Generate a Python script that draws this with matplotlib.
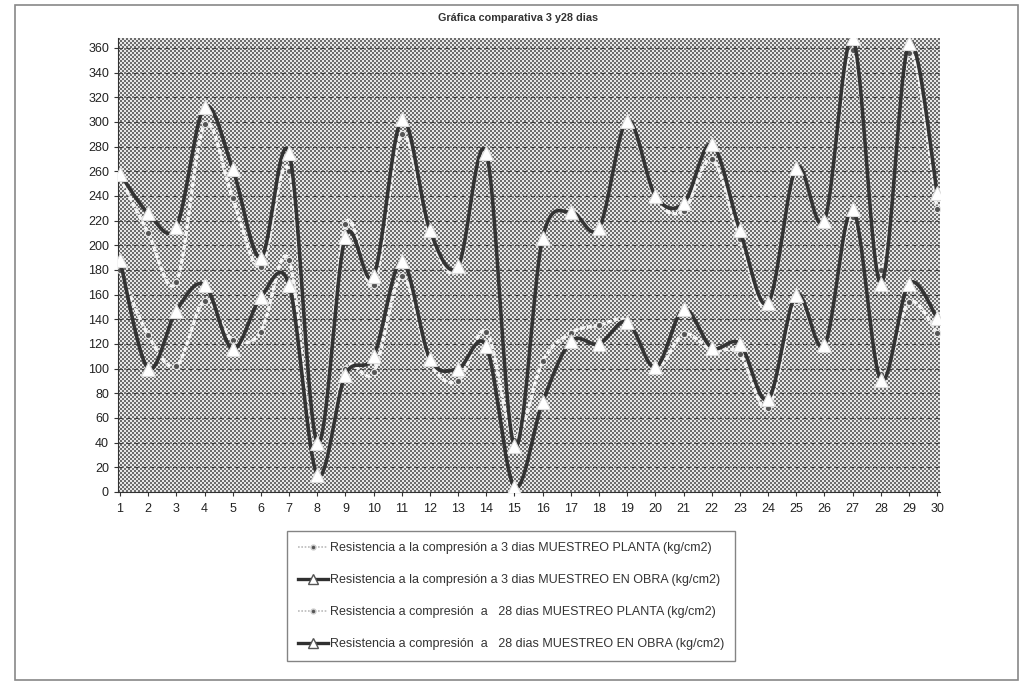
import numpy as np
import matplotlib
matplotlib.use('agg')
from matplotlib import pyplot
from matplotlib.patches import Rectangle
from matplotlib.lines import Line2D

dias = list(range(1, 31))

# resistencias a compresion (kg/cm2)
planta_3 = [180, 127, 102, 155, 123, 130, 188, 15, 100, 97,
            175, 105, 90, 130, 44, 106, 129, 135, 138, 100,
            128, 115, 112, 68, 155, 120, 223, 96, 154, 129]
obra_3 = [188, 100, 147, 168, 116, 158, 168, 14, 95, 110,
          187, 108, 100, 118, 4, 73, 122, 120, 138, 101,
          148, 117, 120, 75, 160, 119, 229, 91, 169, 141]
planta_28 = [255, 210, 170, 298, 238, 182, 260, 40, 217, 168,
             290, 208, 180, 272, 42, 205, 228, 215, 300, 238,
             228, 270, 205, 150, 260, 220, 358, 180, 356, 229]
obra_28 = [258, 226, 215, 312, 262, 190, 275, 40, 207, 175,
           302, 212, 183, 275, 37, 206, 227, 214, 301, 240,
           234, 282, 212, 153, 263, 220, 368, 169, 364, 242]

etiquetas = [
    'Resistencia a la compresión a 3 dias MUESTREO PLANTA (kg/cm2)',
    'Resistencia a la compresión a 3 dias MUESTREO EN OBRA (kg/cm2)',
    'Resistencia a compresión  a   28 dias MUESTREO PLANTA (kg/cm2)',
    'Resistencia a compresión  a   28 dias MUESTREO EN OBRA (kg/cm2)',
]


def suavizar(x, y, pasos=20):
    # curva tipo Catmull-Rom, como la linea suavizada de Excel
    x = np.asarray(x, float)
    y = np.asarray(y, float)
    px = np.concatenate([[x[0]], x, [x[-1]]])
    py = np.concatenate([[y[0]], y, [y[-1]]])
    xs, ys = [], []
    t = np.linspace(0, 1, pasos, endpoint=False)
    for i in range(1, len(px) - 2):
        for p, out in ((px, xs), (py, ys)):
            p0, p1, p2, p3 = p[i - 1], p[i], p[i + 1], p[i + 2]
            c1 = p1 + (p2 - p0) / 6
            c2 = p2 - (p3 - p1) / 6
            out.append((1 - t) ** 3 * p1 + 3 * (1 - t) ** 2 * t * c1
                       + 3 * (1 - t) * t ** 2 * c2 + t ** 3 * p2)
    xs.append([x[-1]])
    ys.append([y[-1]])
    return np.concatenate(xs), np.concatenate(ys)


pyplot.rcParams['font.family'] = 'Liberation Sans'
fig = pyplot.figure(figsize=(10.24, 6.83), dpi=100)

# marco exterior
fig.patches.append(Rectangle((15 / 1024, 3 / 683), 1003 / 1024, 675 / 683,
                             transform=fig.transFigure, fill=False,
                             edgecolor='#888888', linewidth=1.2))

ax = fig.add_axes([118 / 1024, 191 / 683, 822 / 1024, 454 / 683])
ax.set_xlim(0.93, 30.1)
ax.set_ylim(0, 368)

# fondo punteado del area de trazado
n_y, n_x = 454 // 2, 822 // 2
trama = (np.add.outer(np.arange(n_y), np.arange(n_x)) % 2).astype(float)
ax.imshow(trama, cmap='gray', vmin=-0.9, vmax=1.2, aspect='auto',
          extent=(0.93, 30.1, 0, 368), interpolation='nearest', zorder=0)

for v in range(20, 361, 20):
    ax.axhline(v, color='#444444', linewidth=0.8, dashes=(4, 3), zorder=1)

estilos = [
    (planta_3, dict(color='#f4f4f4', linewidth=2.4, linestyle=(0, (1.5, 0.6))), 'o'),
    (obra_3, dict(color='#333333', linewidth=2.6, linestyle='-'), '^'),
    (planta_28, dict(color='#f4f4f4', linewidth=2.4, linestyle=(0, (1.5, 0.6))), 'o'),
    (obra_28, dict(color='#333333', linewidth=2.6, linestyle='-'), '^'),
]
for k, (serie, st, mk) in enumerate(estilos):
    sx, sy = suavizar(dias, serie)
    ax.plot(sx, sy, zorder=3 + k, **st)
    if mk == 'o':
        ax.plot(dias, serie, 'o', markersize=4.5, markerfacecolor='#555555',
                markeredgecolor='#e8e8e8', markeredgewidth=0.8, zorder=3 + k)
    else:
        ax.plot(dias, serie, '^', markersize=9.5, markerfacecolor='white',
                markeredgecolor='#dddddd', markeredgewidth=0.8, zorder=3 + k)

ax.set_xticks(dias)
ax.set_yticks(range(0, 361, 20))
ax.tick_params(axis='both', labelsize=9, length=3, color='#333333', labelcolor='#222222')
ax.tick_params(axis='x', pad=5)
for lado in ('top', 'right'):
    ax.spines[lado].set_visible(False)
for lado in ('left', 'bottom'):
    ax.spines[lado].set_color('#333333')

fig.text(518 / 1024, 1 - 18 / 683, 'Gráfica comparativa 3 y28 dias',
         ha='center', va='center', fontsize=7.8, fontweight='bold', color='#333333')

# leyenda
muestras = [
    Line2D([], [], color='#bbbbbb', linewidth=1.2, linestyle=(0, (1, 1)),
           marker='o', markersize=3.5, markerfacecolor='#555555', markeredgecolor='#cccccc'),
    Line2D([], [], color='#303030', linewidth=2.4, marker='^', markersize=7,
           markerfacecolor='white', markeredgecolor='#555555'),
    Line2D([], [], color='#bbbbbb', linewidth=1.2, linestyle=(0, (1, 1)),
           marker='o', markersize=3.5, markerfacecolor='#555555', markeredgecolor='#cccccc'),
    Line2D([], [], color='#303030', linewidth=2.4, marker='^', markersize=7,
           markerfacecolor='white', markeredgecolor='#555555'),
]
leg = fig.legend(muestras, etiquetas, loc='center', bbox_to_anchor=(511 / 1024, 1 - 596 / 683),
                 fontsize=9, frameon=True, fancybox=False, edgecolor='#666666',
                 labelspacing=1.6, handlelength=2.4, handletextpad=0.1,
                 borderpad=0.9, labelcolor='#333333')
leg.get_frame().set_linewidth(1.0)

pyplot.savefig('out.png', dpi=100)
